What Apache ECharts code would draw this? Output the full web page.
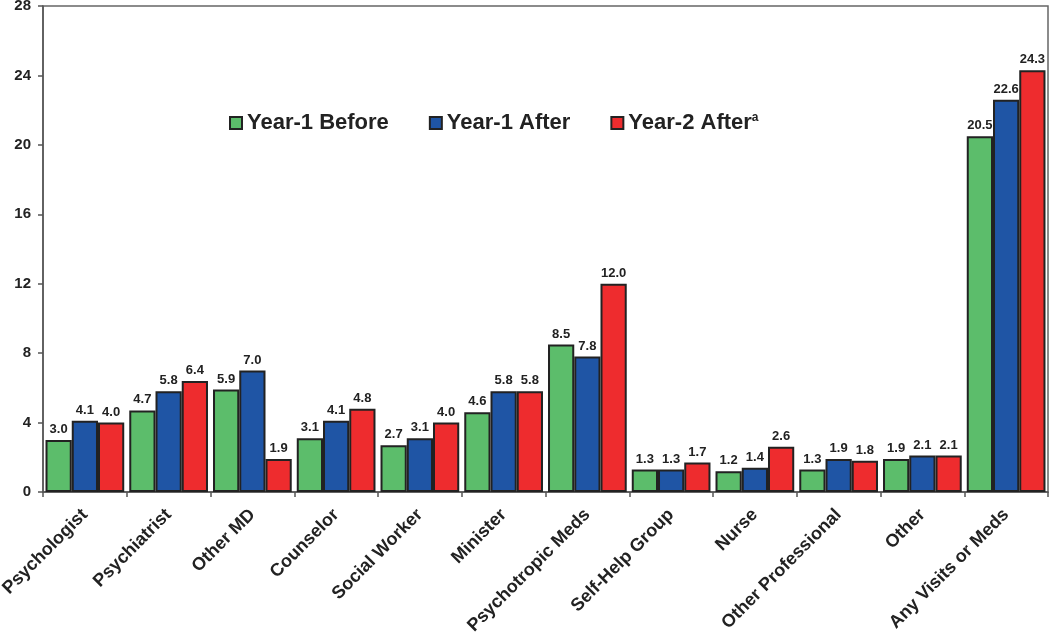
<!DOCTYPE html>
<html>
<head>
<meta charset="utf-8">
<script src="https://cdn.jsdelivr.net/npm/echarts@6/dist/echarts.min.js"></script>
<style>
html,body{margin:0;padding:0;background:#fff;}
#chart{width:1050px;height:639px;}
</style>
</head>
<body>
<div id="chart"></div>
<script>
var categories = ['Psychologist','Psychiatrist','Other MD','Counselor','Social Worker','Minister','Psychotropic Meds','Self-Help Group','Nurse','Other Professional','Other','Any Visits or Meds'];
var year1Before = [3.0,4.7,5.9,3.1,2.7,4.6,8.5,1.3,1.2,1.3,1.9,20.5];
var year1After  = [4.1,5.8,7.0,4.1,3.1,5.8,7.8,1.3,1.4,1.9,2.1,22.6];
var year2After  = [4.0,6.4,1.9,4.8,4.0,5.8,12.0,1.7,2.6,1.8,2.1,24.3];
var seriesNames = ['Year-1 Before','Year-1 After','Year-2 After'];
var yTicks = [0,4,8,12,16,20,24,28];

var FONT = '"Liberation Sans", Arial, sans-serif';
var colors = ['#5cbd6b','#1f55a5','#ee2c2e'];

function mkSeries(name, data, color){
  return {
    name: name,
    type: 'bar',
    data: data,
    barGap: '0%',
    barCategoryGap: '6%',
    itemStyle: {color: color, borderColor: '#222', borderWidth: 2},
    label: {
      show: true, position: 'top', distance: 4,
      color: '#222', fontFamily: FONT, fontWeight: 'bold', fontSize: 13,
      formatter: function(p){ return p.value.toFixed(1); }
    }
  };
}

var chart = echarts.init(document.getElementById('chart'), null, {renderer:'canvas'});
chart.setOption({
  animation: false,
  backgroundColor: '#fff',
  color: colors,
  grid: {left: 43, right: 2, top: 6, bottom: 147, show: true, borderColor: '#666', borderWidth: 1.5, containLabel: false, outerBoundsMode: 'none'},
  legend: {
    left: 224, top: 107,
    icon: 'rect',
    itemWidth: 12, itemHeight: 12, itemGap: 40,
    data: seriesNames,
    textStyle: {
      fontFamily: FONT, fontWeight: 'bold', fontSize: 22, color: '#222',
      rich: {
        m: {fontFamily: FONT, fontWeight: 'bold', fontSize: 22, color: '#222'},
        s: {fontFamily: FONT, fontWeight: 'bold', fontSize: 12, color: '#222', verticalAlign: 'top'}
      }
    },
    formatter: function(n){ return n === 'Year-2 After' ? '{m|' + n + '}{s|a}' : n; }
  },
  xAxis: {
    type: 'category',
    data: categories,
    axisLine: {lineStyle: {color: '#555', width: 1.5}},
    axisTick: {show: true, length: 5, lineStyle: {color: '#555', width: 1.5}},
    axisLabel: {rotate: 45, interval: 0, margin: 20, color: '#222', fontFamily: FONT, fontWeight: 'bold', fontSize: 18}
  },
  yAxis: {
    type: 'value', min: yTicks[0], max: yTicks[yTicks.length-1], interval: 4,
    splitLine: {show: false},
    axisLine: {show: true, lineStyle: {color: '#555', width: 1.5}},
    axisTick: {show: true, length: 5, lineStyle: {color: '#555', width: 1.5}},
    axisLabel: {margin: 12, color: '#222', fontFamily: FONT, fontWeight: 'bold', fontSize: 15}
  },
  series: [
    mkSeries(seriesNames[0], year1Before, colors[0]),
    mkSeries(seriesNames[1], year1After, colors[1]),
    mkSeries(seriesNames[2], year2After, colors[2])
  ]
});
</script>
</body>
</html>
